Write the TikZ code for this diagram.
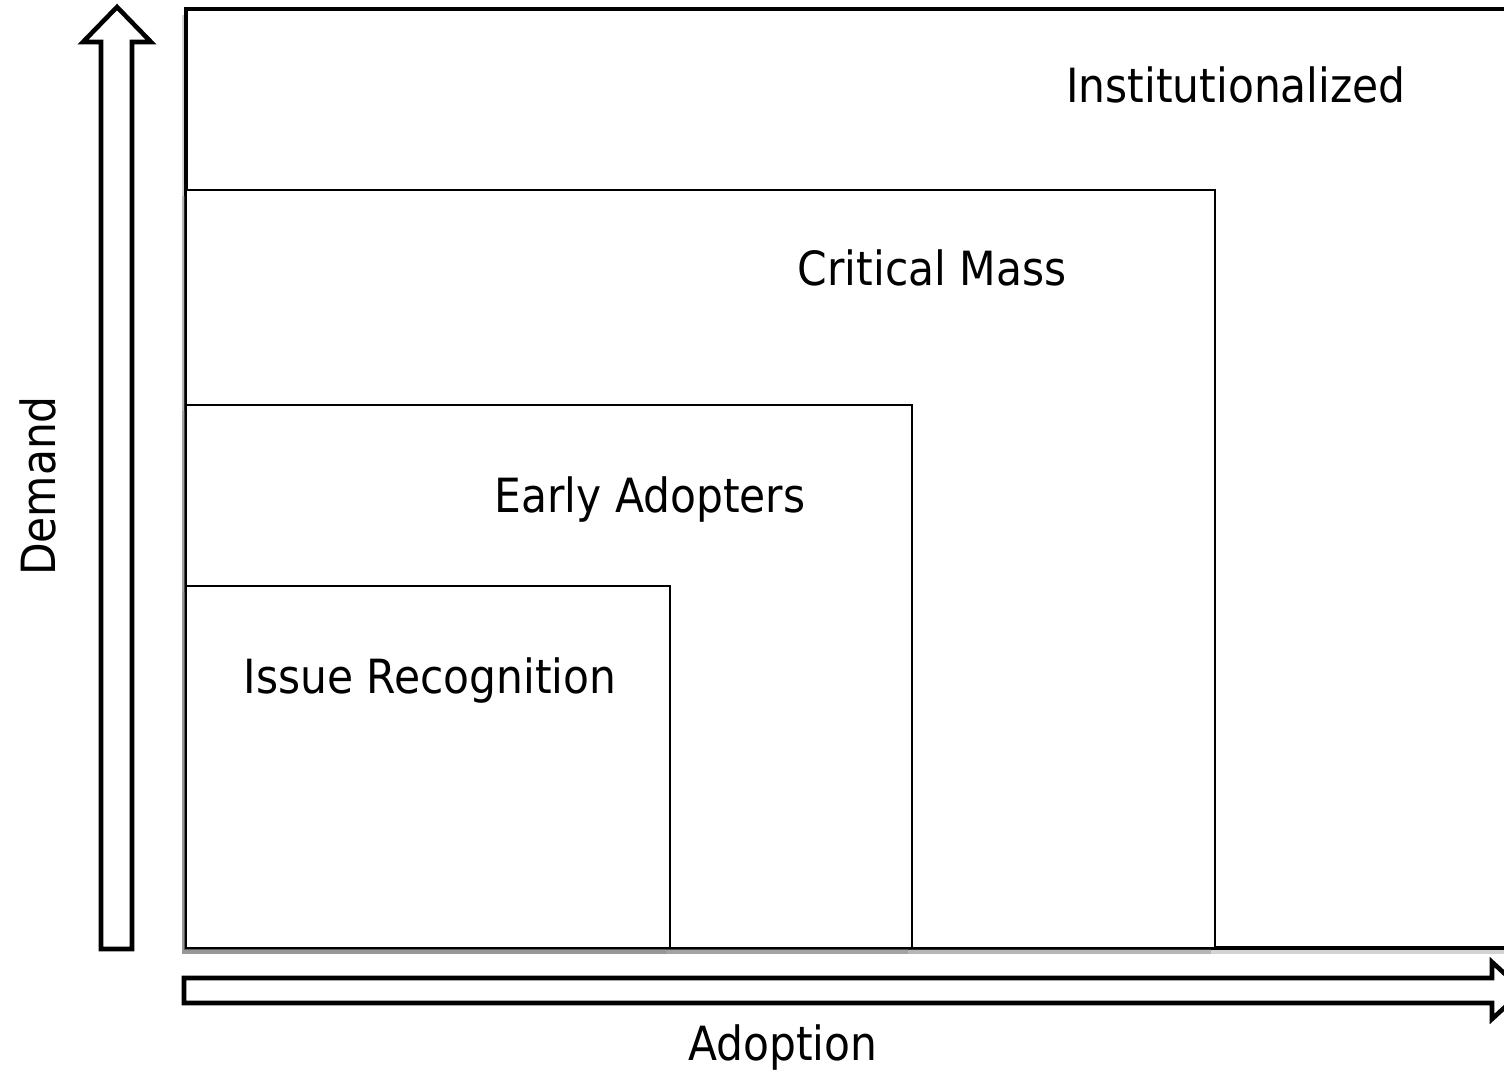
\documentclass[tikz,border=0pt]{standalone}
\usepackage{fontspec}
\setmainfont{DejaVu Sans Condensed}
\usepackage{xcolor}
\usepackage{tikz}
\usetikzlibrary{shadows,positioning}
\definecolor{ink}{HTML}{000000}
\tikzset{
  StageBox/.style={
    draw=ink, fill=white, line width=0.6pt,
    drop shadow={shadow xshift=-0.04cm, shadow yshift=-0.06cm, opacity=0.35}
  },
  OuterBox/.style={StageBox, line width=0.9pt},
  StageLabel/.style={font=\fontsize{13.4}{16}\selectfont, inner sep=0pt, text=ink},
  AxisArrow/.style={draw=ink, fill=white, line width=1.3pt, line join=miter}
}

\begin{document}
\begin{tikzpicture}[x=0.01cm, y=-0.01cm, line cap=butt]
  \useasboundingbox (0,0) rectangle (1504,1072);
  \clip (0,0) rectangle (1504,1072);

  % stage corners (all share the lower left corner)
  \coordinate (O)  at (186,948);
  \coordinate (In) at (1530,9);
  \coordinate (Cm) at (1215,190);
  \coordinate (Ea) at (912,405);
  \coordinate (Ir) at (670,586);

  % nested stages, largest first
  \draw[OuterBox] (O) rectangle (In);
  \draw[StageBox] (O) rectangle (Cm);
  \draw[StageBox] (O) rectangle (Ea);
  \draw[StageBox] (O) rectangle (Ir);

  \node[StageLabel] (inst)  at (1236,85)  {Institutionalized};
  \node[StageLabel] (crit)  at (932,268)  {Critical Mass};
  \node[StageLabel] (early) at (650,499)  {Early Adopters};
  \node[StageLabel] (issue) at (430,680)  {Issue Recognition};

  % block arrows for the two axes
  \draw[AxisArrow] (101,949) -- (101,42) -- (83,42) -- (117,7)
    -- (151,42) -- (132,42) -- (132,949) -- cycle;
  \draw[AxisArrow] (184,978) -- (1492,978) -- (1492,962) -- (1523,990.5)
    -- (1492,1019) -- (1492,1003) -- (184,1003) -- cycle;

  \node[StageLabel, rotate=90] (demand) at (38,486) {Demand};
  \node[StageLabel] (adopt) at (783,1047) {Adoption};
\end{tikzpicture}
\end{document}
